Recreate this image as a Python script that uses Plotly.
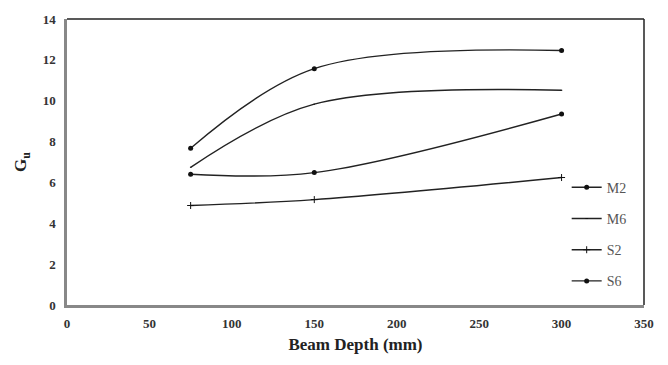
import plotly.graph_objects as go

depth = [75, 150, 300]
m2 = [7.67, 11.57, 12.46]
m6 = [6.74, 9.83, 10.51]
s2 = [4.87, 5.16, 6.24]
s6 = [6.40, 6.48, 9.35]

series = [
    ("M2", m2, dict(symbol="circle", size=5)),
    ("M6", m6, dict(symbol="line-ew", size=1, line=dict(width=1, color="#111"))),
    ("S2", s2, dict(symbol="cross-thin", size=5, line=dict(width=1, color="#111"))),
    ("S6", s6, dict(symbol="circle", size=5)),
]

fig = go.Figure()
for i, (name, vals, mk) in enumerate(series):
    fig.add_trace(go.Scatter(
        x=depth, y=vals, name=name, mode="lines+markers",
        line=dict(color="#222", width=1.4, shape="spline", smoothing=1.0),
        marker=dict(color="#111", **mk),
        legendgroup=name,
    ))

font_serif = "Liberation Serif, Times New Roman, serif"

fig.update_layout(
    width=668, height=365,
    margin=dict(l=67, r=24, t=15, b=60),
    paper_bgcolor="white", plot_bgcolor="white",
    font=dict(family=font_serif, color="#333"),
    showlegend=True,
    legend=dict(x=0.866, y=0.466, xanchor="left", yanchor="top",
                bgcolor="rgba(0,0,0,0)", font=dict(size=14, color="#555", family=font_serif),
                tracegroupgap=10, itemwidth=30),
    xaxis=dict(range=[0, 350], tickvals=[0, 50, 100, 150, 200, 250, 300, 350],
               showgrid=False, zeroline=False, showline=True, linecolor="#888", linewidth=2.5,
               ticks="", ticklabelstandoff=5,
               tickfont=dict(size=13, family=font_serif, color="#333", weight="bold"),
               title=dict(text="<b>Beam Depth (mm)</b>", font=dict(size=17, family=font_serif, color="#222"), standoff=8)),
    yaxis=dict(range=[0, 14], tickvals=[0, 2, 4, 6, 8, 10, 12, 14],
               showgrid=False, zeroline=False, showline=True, linecolor="#888", linewidth=2.5,
               ticks="", ticklabelstandoff=6,
               tickfont=dict(size=13, family=font_serif, color="#333", weight="bold"),
               title=dict(text="<b>G<sub>u</sub></b>", font=dict(size=17, family=font_serif, color="#222"), standoff=12)),
)
fig.add_shape(type="line", xref="paper", yref="paper", x0=0, x1=1, y0=1, y1=1,
              line=dict(color="#222", width=1.5))
fig.add_shape(type="line", xref="paper", yref="paper", x0=1, x1=1, y0=0, y1=1,
              line=dict(color="#222", width=1.5))

fig.write_html("out.html")
